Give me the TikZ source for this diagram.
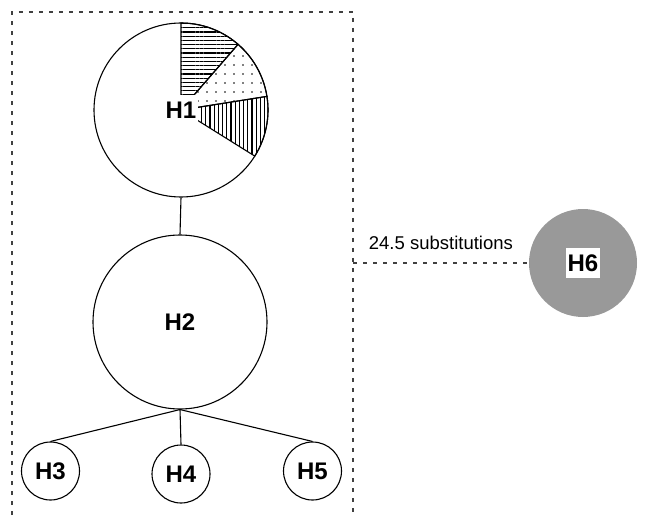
\documentclass[tikz,border=0pt]{standalone}
\usepackage{fontspec}
\setmainfont{Liberation Sans}
\usetikzlibrary{patterns.meta}
\begin{document}
\begin{tikzpicture}[x=1pt,y=1pt,
  hap/.style={circle, draw=black, line width=1.1pt, inner sep=0pt, font=\fontsize{24}{24}\selectfont\bfseries},
  tag/.style={fill=white, inner xsep=2pt, inner ysep=0pt, minimum height=30pt, font=\fontsize{24}{24}\selectfont\bfseries},
  link/.style={line width=1.1pt},
  wedge/.style={draw=black, line width=1.1pt},
  boxline/.style={draw=black!75, line width=1.2pt, dash pattern=on 4pt off 6pt},
]
\useasboundingbox (0,0) rectangle (645,515);
% dashed enclosure
\coordinate (bl) at (12,0);
\coordinate (tl) at (12,503);
\coordinate (tr) at (353,503);
\coordinate (br) at (353,0);
\coordinate (bx) at (353,252);
\draw[boxline] (bl) -- (tl) -- (tr) -- (br);
% pie of H1
\coordinate (c1) at (181,405);
\draw[wedge, pattern={Lines[angle=0, distance=4.2pt, line width=1.2pt]}]
  (c1) -- ++(49:87) arc[start angle=49, end angle=90, radius=87] -- cycle;
\draw[wedge, pattern={Dots[distance=9pt, radius=0.85pt]}]
  (c1) -- ++(9:87) arc[start angle=9, end angle=49, radius=87] -- cycle;
\draw[wedge, pattern={Lines[angle=90, distance=4.2pt, line width=1.2pt]}]
  (c1) -- ++(-32:87) arc[start angle=-32, end angle=9, radius=87] -- cycle;
\node[hap, minimum size=174pt] (H1) at (c1) {};
\node[tag] (H1lab) at (c1) {H1};
% other haplotypes
\node[hap, minimum size=174pt] (H2) at (180,193) {H2};
\node[hap, minimum size=58pt] (H3) at (50.5,44) {H3};
\node[hap, minimum size=58pt] (H4) at (181,41) {H4};
\node[hap, minimum size=58pt] (H5) at (312.5,44) {H5};
\node[circle, fill=black!40, minimum size=108pt, inner sep=0pt] (H6) at (583,252) {};
\node[tag] (H6lab) at (H6) {H6};
% connectors
\draw[link] (H1.south) -- (H2.north);
\draw[link] (H2.south) -- (H3.north);
\draw[link] (H2.south) -- (H4.north);
\draw[link] (H2.south) -- (H5.north);
\draw[boxline] (bx) -- node[midway, above=9.5pt, font=\fontsize{18.5}{18.5}\selectfont]{24.5 substitutions} (H6.west);
\end{tikzpicture}
\end{document}
